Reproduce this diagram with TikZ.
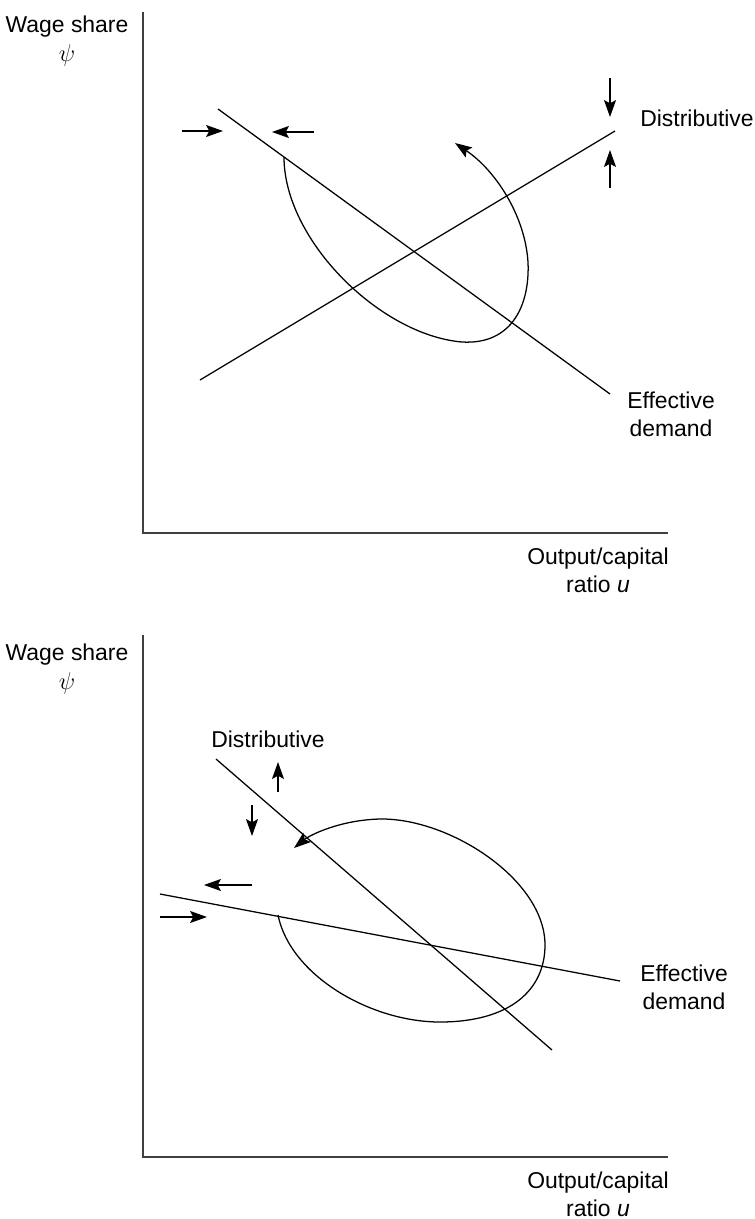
\documentclass[tikz,border=0pt]{standalone}
\usepackage{fontspec}
\setmainfont{Liberation Sans}
\usetikzlibrary{arrows.meta}

\begin{document}
\begin{tikzpicture}[x=0.025cm,y=-0.025cm,
every node/.style={align=center,inner sep=0pt,font=\fontsize{16.3}{20}\selectfont},
axis/.style={draw=black!75,line width=1.3pt},
curve/.style={line width=0.9pt},
>={Stealth[length=12pt,width=8.5pt,inset=2.2pt]}]
\useasboundingbox (0,0) rectangle (755,1219);

% upper panel
\coordinate (yA) at (143,12);
\coordinate (oA) at (143,533);
\coordinate (xA) at (668,533);
\draw[axis] (yA)--(oA)--(xA);
\node (wageA) at (67,41) {Wage share\\$\psi$};
\node (ratioA) at (598,570) {Output/capital\\ratio \textit{u}};

\coordinate (edA1) at (218,109);
\coordinate (edA2) at (610,394);
\coordinate (diA1) at (200,380);
\coordinate (diA2) at (615,131);
\draw[curve] (edA1)--(edA2);
\draw[curve] (diA1)--(diA2);
\node (distA) at (697,118) {Distributive};
\node (effA) at (671,414) {Effective\\demand};

\draw[curve,->] (182,131)--(223,131);
\draw[curve,->] (314,132)--(272,132);
\draw[curve,->] (610,78)--(610,117);
\draw[curve,->] (610,188)--(610,150);

\draw[curve,->] (284,157) .. controls (284,240) and (380,335) .. (462,342)
  .. controls (512,345) and (530,305) .. (528,262)
  .. controls (525,215) and (495,170) .. (455,143);

% lower panel
\coordinate (yB) at (143,635);
\coordinate (oB) at (143,1157);
\coordinate (xB) at (668,1157);
\draw[axis] (yB)--(oB)--(xB);
\node (wageB) at (67,669) {Wage share\\$\psi$};
\node (ratioB) at (598,1194) {Output/capital\\ratio \textit{u}};

\coordinate (diB1) at (216,759);
\coordinate (diB2) at (552,1050);
\coordinate (edB1) at (160,894);
\coordinate (edB2) at (620,981);
\draw[curve] (diB1)--(diB2);
\draw[curve] (edB1)--(edB2);
\node (distB) at (268,739) {Distributive};
\node (effB) at (684,987) {Effective\\demand};

\draw[curve,->] (278,792)--(278,762);
\draw[curve,->] (252,805)--(252,836);
\draw[curve,->] (252,885)--(204,885);
\draw[curve,->] (160,917)--(207,917);

\draw[curve,->] (278,915) .. controls (290,975) and (370,1022) .. (440,1022)
  .. controls (510,1022) and (545,990) .. (545,945)
  .. controls (545,880) and (450,818) .. (380,819)
  .. controls (340,820) and (310,835) .. (294,848);
\end{tikzpicture}
\end{document}
